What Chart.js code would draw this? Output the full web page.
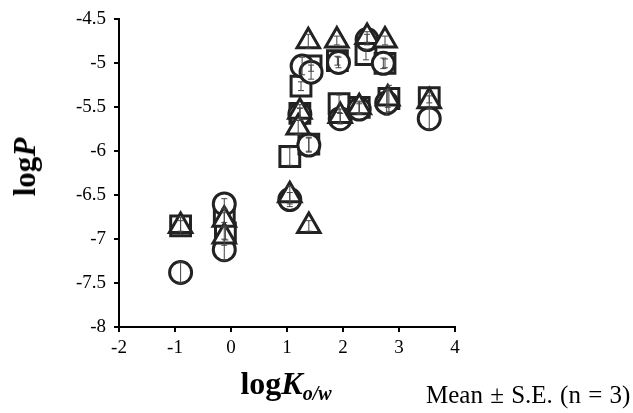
<!DOCTYPE html>
<html>
<head>
<meta charset="utf-8">
<script src="https://cdn.jsdelivr.net/npm/chart.js@4/dist/chart.umd.min.js"></script>
<style>
  html, body { margin: 0; padding: 0; background: #fff; }
  #wrap { position: relative; width: 633px; height: 413px; font-family: "Liberation Serif", "DejaVu Serif", serif; color: #000; }
  #c { position: absolute; left: 0; top: 0; }
  #ytitle { position: absolute; left: 25px; top: 167px; transform: translate(-50%, -50%) rotate(-90deg); font-weight: bold; font-size: 31px; white-space: nowrap; }
  #xtitle { position: absolute; left: 286px; top: 385px; transform: translate(-50%, -50%); font-weight: bold; font-size: 32px; white-space: nowrap; }
  #xtitle sub { font-size: 20px; vertical-align: -6px; }
  #note { position: absolute; left: 426px; top: 381px; font-size: 25px; word-spacing: 1px; white-space: nowrap; }
</style>
</head>
<body>
<div id="wrap">
  <canvas id="c" width="633" height="413"></canvas>
  <div id="ytitle">log<i>P</i></div>
  <div id="xtitle">log<i>K<sub>o/w</sub></i></div>
  <div id="note">Mean ± S.E. (n = 3)</div>
</div>
<script>
// squares
const sqX = [-0.9, -0.12, -0.1, 1.05, 1.25, 1.23, 1.39, 1.43, 1.93, 1.9, 2.41, 2.29, 2.82, 2.75, 3.54];
const sqY = [-6.85, -6.73, -6.93, -6.06, -5.26, -5.57, -5.92, -5.03, -5.46, -4.97, -4.9, -5.5, -5.4, -5.0, -5.39];
const sqErr = [0.06, 0.08, 0.08, 0.1, 0.05, 0.06, 0.08, 0.06, 0.1, 0.05, 0.06, 0.07, 0.15, 0.05, 0.06];

// circles
const ciX = [-0.9, -0.12, -0.12, 1.05, 1.27, 1.43, 1.23, 1.39, 1.92, 1.95, 2.29, 2.43, 2.72, 2.78, 3.54];
const ciY = [-7.38, -6.6, -7.12, -6.55, -5.03, -5.1, -5.58, -5.93, -4.99, -5.63, -5.52, -4.73, -5.0, -5.45, -5.63];
const ciErr = [0.12, 0.06, 0.12, 0.08, 0.1, 0.08, 0.07, 0.08, 0.06, 0.06, 0.06, 0.06, 0.06, 0.14, 0.12];

// triangles
const trX = [-0.9, -0.12, -0.12, 1.05, 1.39, 1.38, 1.23, 1.2, 1.89, 1.95, 2.29, 2.43, 2.75, 2.8, 3.54];
const trY = [-6.85, -6.78, -6.97, -6.5, -6.85, -4.75, -5.55, -5.73, -4.74, -5.6, -5.5, -4.7, -4.74, -5.4, -5.43];
const trErr = [0.1, 0.08, 0.1, 0.1, 0.06, 0.08, 0.08, 0.08, 0.05, 0.08, 0.06, 0.06, 0.05, 0.1, 0.06];

const xTicks = [-2, -1, 0, 1, 2, 3, 4];
const yTicks = [-8, -7.5, -7, -6.5, -6, -5.5, -5, -4.5];

const pts = (xs, ys) => xs.map((x, i) => ({ x: x, y: ys[i] }));

// vertical error bars with small caps
const errorBars = {
  id: 'errorBars',
  afterDatasetsDraw(chart) {
    const ctx = chart.ctx;
    const yScale = chart.scales.y;
    ctx.save();
    ctx.strokeStyle = '#444';
    ctx.lineWidth = 1;
    chart.data.datasets.forEach((ds, i) => {
      const meta = chart.getDatasetMeta(i);
      meta.data.forEach((el, j) => {
        const v = ds.data[j].y;
        const e = ds.err[j];
        const top = yScale.getPixelForValue(v + e);
        const bot = yScale.getPixelForValue(v - e);
        ctx.beginPath();
        ctx.moveTo(el.x, top);
        ctx.lineTo(el.x, bot);
        ctx.moveTo(el.x - 3, top);
        ctx.lineTo(el.x + 3, top);
        ctx.moveTo(el.x - 3, bot);
        ctx.lineTo(el.x + 3, bot);
        ctx.stroke();
      });
    });
    ctx.restore();
  }
};

const tickFont = { family: 'Liberation Serif', size: 19 };

new Chart(document.getElementById('c'), {
  type: 'scatter',
  data: {
    datasets: [
      {
        label: 'triangle',
        data: pts(trX, trY),
        err: trErr,
        pointStyle: 'triangle',
        pointRadius: 13,
        order: 0,
      },
      {
        label: 'circle',
        data: pts(ciX, ciY),
        err: ciErr,
        pointStyle: 'circle',
        pointRadius: 11,
        order: 1,
      },
      {
        label: 'square',
        data: pts(sqX, sqY),
        err: sqErr,
        pointStyle: 'rect',
        pointRadius: 14,
        order: 2,
      },
    ].map(d => Object.assign(d, {
      backgroundColor: '#fff',
      borderColor: '#222',
      borderWidth: 3,
      pointHoverRadius: d.pointRadius,
    })),
  },
  options: {
    responsive: false,
    animation: false,
    devicePixelRatio: 1,
    layout: { padding: { left: 0, right: 178, top: 17, bottom: 0 } },
    plugins: {
      legend: { display: false },
      tooltip: { enabled: false },
    },
    scales: {
      x: {
        type: 'linear',
        min: -2,
        max: 4,
        afterBuildTicks: s => { s.ticks = xTicks.map(v => ({ value: v })); },
        afterFit: s => { s.height = 86; },
        ticks: { color: '#000', font: tickFont, padding: 5, callback: v => String(v) },
        grid: { drawOnChartArea: false, tickLength: 5, color: '#000', lineWidth: 2 },
        border: { color: '#000', width: 2 },
      },
      y: {
        type: 'linear',
        min: -8,
        max: -4.5,
        afterBuildTicks: s => { s.ticks = yTicks.map(v => ({ value: v })); },
        afterFit: s => { s.width = 119; },
        ticks: { color: '#000', font: tickFont, padding: 8, callback: v => String(v) },
        grid: { drawOnChartArea: false, tickLength: 5, color: '#000', lineWidth: 2 },
        border: { color: '#000', width: 2 },
      },
    },
  },
  plugins: [errorBars],
});
</script>
</body>
</html>
